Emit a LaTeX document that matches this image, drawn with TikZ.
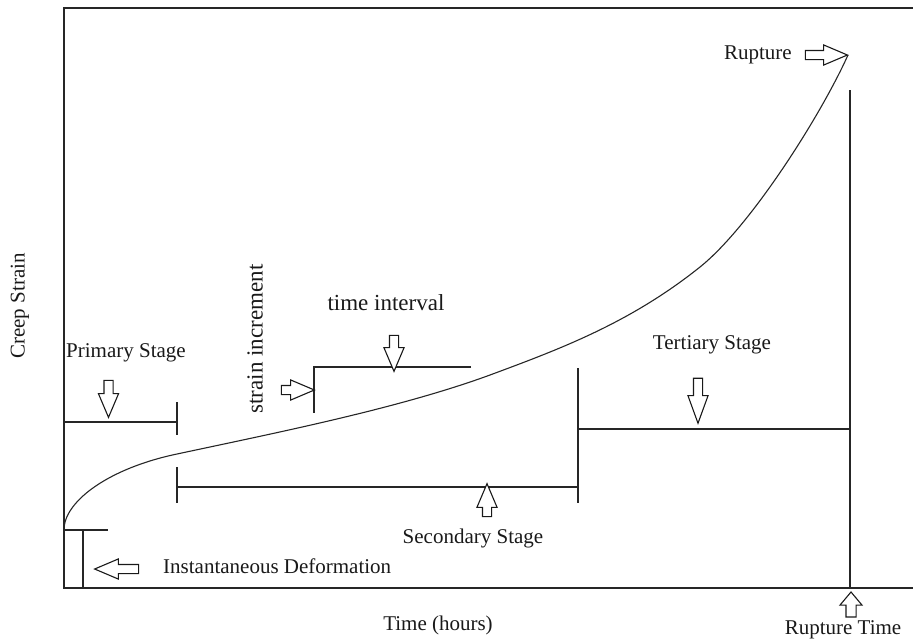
\documentclass[tikz,border=0pt]{standalone}
\usepackage{fontspec}
\setmainfont{Liberation Serif}
\usetikzlibrary{shapes.arrows}
\begin{document}
\begin{tikzpicture}[x=1pt,y=-1pt,
  axisline/.style={line width=1.5pt, black!85, line cap=rect},
  stageline/.style={line width=1.4pt, black!85},
  curveline/.style={line width=1.1pt, black!85},
  txt/.style={inner sep=0pt, font=\fontsize{21}{24}\selectfont, text=black!90},
  bigtxt/.style={inner sep=0pt, font=\fontsize{23}{26}\selectfont, text=black!90},
  blockarrow/.style={single arrow, draw=black!90, line width=1.1pt, fill=white,
    inner xsep=0pt, inner ysep=4pt, outer sep=0pt,
    single arrow head extend=5.5pt, single arrow tip angle=46}
]
\useasboundingbox (0,0) rectangle (913,641);

% frame of the graph
\coordinate (tl) at (64,8);
\coordinate (tr) at (913,8);
\coordinate (bl) at (64,588);
\coordinate (br) at (913,588);
\draw[axisline] (tr) -- (tl) -- (bl) -- (br);

% creep curve: primary, secondary and tertiary parts
\coordinate (c0) at (64,528);
\coordinate (c1) at (177,454);
\coordinate (c2) at (490,375);
\coordinate (c3) at (700,267);
\coordinate (c4) at (848,55);
\draw[curveline] (c0) .. controls (66,500) and (110,468) .. (c1)
  .. controls (280,432) and (400,408) .. (c2)
  .. controls (560,349) and (630,323) .. (c3)
  .. controls (750,227) and (820,117) .. (c4);

% instantaneous deformation
\coordinate (id1) at (64,530);
\coordinate (id2) at (108,530);
\coordinate (id3) at (83,530);
\coordinate (id4) at (83,588);
\draw[stageline] (id1) -- (id2) (id3) -- (id4);

% primary stage
\coordinate (p1) at (64,422);
\coordinate (p2) at (177,422);
\coordinate (p3) at (177,402);
\coordinate (p4) at (177,435);
\draw[stageline] (p1) -- (p2) (p3) -- (p4);

% secondary stage
\coordinate (s1) at (177,487);
\coordinate (s2) at (578,487);
\coordinate (s3) at (177,467);
\coordinate (s4) at (177,503);
\coordinate (s5) at (578,368);
\coordinate (s6) at (578,503);
\draw[stageline] (s1) -- (s2) (s3) -- (s4) (s5) -- (s6);

% tertiary stage
\coordinate (t1) at (578,429);
\coordinate (t2) at (850,429);
\coordinate (t3) at (850,90);
\coordinate (t4) at (850,588);
\draw[stageline] (t1) -- (t2) (t3) -- (t4);

% time interval and strain increment
\coordinate (ti1) at (471,367);
\coordinate (ti2) at (314,367);
\coordinate (ti3) at (314,413);
\draw[stageline] (ti1) -- (ti2) -- (ti3);

% block arrows
\node[blockarrow, minimum height=37pt, rotate=-90] (aprim) at (108.5,393.5) {};
\node[blockarrow, minimum height=44pt, rotate=180] (ainst) at (122,569) {};
\node[blockarrow, minimum height=33pt] (astrain) at (292.5,390) {};
\node[blockarrow, minimum height=36pt, rotate=-90] (atime) at (394,348) {};
\node[blockarrow, minimum height=33pt, rotate=90] (asec) at (487,505.5) {};
\node[blockarrow, minimum height=45pt, rotate=-90, single arrow tip angle=40] (atert) at (698,394.5) {};
\node[blockarrow, minimum height=42pt] (arup) at (821,55) {};
\node[blockarrow, minimum height=25pt, rotate=90, inner ysep=4.5pt,
      single arrow head extend=6pt, single arrow tip angle=80] (aruptime) at (851,607.5) {};

% labels
\node[txt, rotate=90] (creep) at (20,306) {Creep Strain};
\node[txt] (primary) at (126,353) {Primary Stage};
\node[bigtxt, rotate=90] (strain) at (255,339) {strain increment};
\node[bigtxt] (interval) at (386,303) {time interval};
\node[txt] (tertiary) at (712,345) {Tertiary Stage};
\node[txt] (secondary) at (473,538) {Secondary Stage};
\node[txt, anchor=west] (inst) at (163,566) {Instantaneous Deformation};
\node[txt] (timeax) at (438,625) {Time (hours)};
\node[txt] (ruptime) at (843,630) {Rupture Time};
\node[txt, anchor=east] (rupture) at (792,55) {Rupture};
\end{tikzpicture}
\end{document}
